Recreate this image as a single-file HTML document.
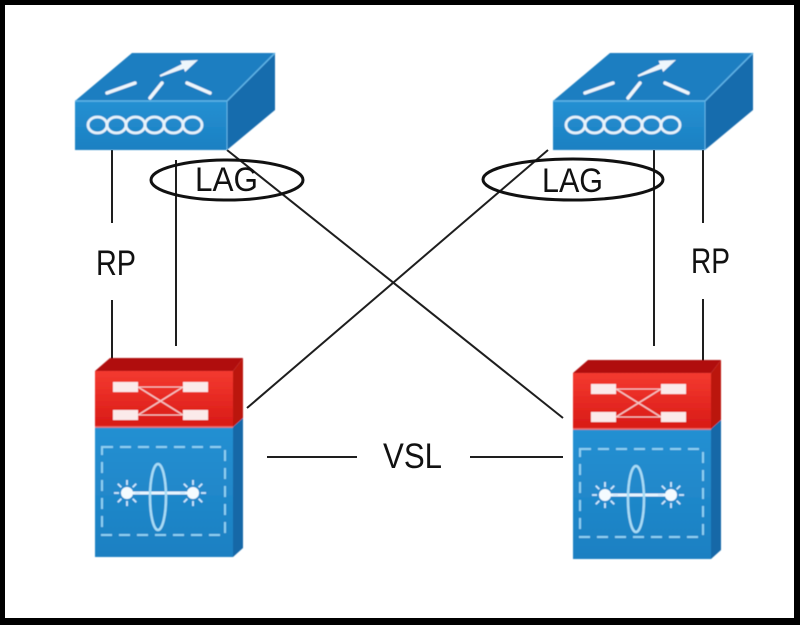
<!DOCTYPE html>
<html><head><meta charset="utf-8"><style>
html,body{margin:0;padding:0;background:#000;}
svg{display:block;}
text{font-family:"Liberation Sans",Arial,sans-serif;fill:#111;}
</style></head><body>
<svg width="800" height="625" viewBox="0 0 800 625" xmlns="http://www.w3.org/2000/svg">
<defs>
  <linearGradient id="redf" x1="0" y1="0" x2="0" y2="1">
    <stop offset="0" stop-color="#f43a30"/><stop offset="1" stop-color="#d81a16"/>
  </linearGradient>
  <linearGradient id="bluef" x1="0" y1="0" x2="0" y2="1">
    <stop offset="0" stop-color="#2590d2"/><stop offset="1" stop-color="#1b80c2"/>
  </linearGradient>
  <filter id="soft" x="-5%" y="-5%" width="110%" height="110%"><feGaussianBlur stdDeviation="0.6"/></filter>
  <g id="topsw">
    <polygon points="132,53 275,53 227,101 75,101" fill="#1b7ec1"/>
    <polygon points="75,101 227,101 227,150 75,150" fill="url(#bluef)"/>
    <polygon points="227,101 275,53 275,110 227,150" fill="#176cad"/>
    <polyline points="75,101 227,101 275,53" fill="none" stroke="#5fb4e6" stroke-width="1.5"/>
    <line x1="227" y1="101" x2="227" y2="150" stroke="#5fb4e6" stroke-width="1"/>
    <polygon points="160.4,76.9 183.8,68.7 185.1,72.0 198,60 180.5,60.8 181.8,64.1 159.6,75.1" fill="#eef6fc"/>
    <line x1="107" y1="93" x2="135" y2="83" stroke="#eef6fc" stroke-width="3.5" stroke-linecap="round"/>
    <line x1="150" y1="98" x2="162" y2="83" stroke="#eef6fc" stroke-width="3.5" stroke-linecap="round"/>
    <line x1="187" y1="83" x2="210" y2="93" stroke="#eef6fc" stroke-width="3.5" stroke-linecap="round"/>
    <g fill="none" stroke="#e6f3fb" stroke-width="2.8">
      <ellipse cx="97.5" cy="125" rx="9.5" ry="8"/>
      <ellipse cx="116.5" cy="125" rx="9.5" ry="8"/>
      <ellipse cx="135.5" cy="125" rx="9.5" ry="8"/>
      <ellipse cx="154.5" cy="125" rx="9.5" ry="8"/>
      <ellipse cx="173.5" cy="125" rx="9.5" ry="8"/>
      <ellipse cx="192.5" cy="125" rx="9.5" ry="8"/>
    </g>
  </g>
  <g id="sun">
    <circle r="6" fill="#f4fbff"/>
    <g stroke="#cfeaff" stroke-width="1.8">
      <line x1="8" y1="0" x2="13" y2="0"/><line x1="-8" y1="0" x2="-13" y2="0"/>
      <line x1="0" y1="8" x2="0" y2="13"/><line x1="0" y1="-8" x2="0" y2="-13"/>
      <line x1="5.7" y1="5.7" x2="9.2" y2="9.2"/><line x1="-5.7" y1="5.7" x2="-9.2" y2="9.2"/>
      <line x1="5.7" y1="-5.7" x2="9.2" y2="-9.2"/><line x1="-5.7" y1="-5.7" x2="-9.2" y2="-9.2"/>
    </g>
  </g>
  <g id="botsw">
    <polygon points="110,358 243,358 233,371 95,371" fill="#b01010"/>
    <rect x="95" y="371" width="138" height="56" fill="url(#redf)"/>
    <polygon points="233,371 243,358 243,418 233,427" fill="#bb1511"/>
    <rect x="95" y="427" width="138" height="130" fill="url(#bluef)"/>
    <polygon points="233,427 243,418 243,548 233,557" fill="#1668a7"/>
    <line x1="95" y1="427" x2="233" y2="427" stroke="#f07070" stroke-width="1.5"/>
    <g stroke="#f5c8c8" stroke-width="1.5">
      <line x1="138" y1="387" x2="183" y2="415"/>
      <line x1="138" y1="415" x2="183" y2="387"/>
      <line x1="138" y1="387" x2="183" y2="387" stroke-width="1"/>
      <line x1="138" y1="415" x2="183" y2="415" stroke-width="1"/>
    </g>
    <g fill="#fbeaea">
      <rect x="113" y="382" width="25" height="10"/>
      <rect x="113" y="410" width="25" height="10"/>
      <rect x="183" y="382" width="25" height="10"/>
      <rect x="183" y="410" width="25" height="10"/>
    </g>
    <rect x="102" y="447" width="123" height="88" fill="none" stroke="#8fd0f2" stroke-width="2" stroke-dasharray="11 7"/>
    <line x1="127" y1="493" x2="193" y2="493" stroke="#e8f6ff" stroke-width="3"/>
    <ellipse cx="158" cy="497" rx="8" ry="33" fill="none" stroke="#a8dcf6" stroke-width="2.5"/>
    <use href="#sun" x="127" y="493"/>
    <use href="#sun" x="193" y="493"/>
  </g>
</defs>

<rect x="5" y="5" width="789" height="613" fill="#ffffff"/>

<!-- connectors -->
<g stroke="#1e1e1e" stroke-width="2" fill="none">
  <line x1="112" y1="150" x2="112" y2="223"/>
  <line x1="112" y1="300" x2="112" y2="360"/>
  <line x1="176" y1="160" x2="176" y2="346"/>
  <line x1="654" y1="150" x2="654" y2="346"/>
  <line x1="703" y1="150" x2="703" y2="223"/>
  <line x1="703" y1="299" x2="703" y2="362"/>
  <line x1="227" y1="150" x2="563" y2="418"/>
  <line x1="247" y1="408" x2="548" y2="150"/>
  <line x1="267" y1="457" x2="357" y2="457"/>
  <line x1="470" y1="457" x2="563" y2="457"/>
</g>

<g filter="url(#soft)">
<use href="#topsw"/>
<use href="#topsw" x="478"/>
<use href="#botsw"/>
<use href="#botsw" x="478" y="2"/>
</g>

<g fill="none" stroke="#111" stroke-width="3">
  <ellipse cx="227" cy="180" rx="76" ry="20"/>
  <ellipse cx="573" cy="179.5" rx="90" ry="20.5"/>
</g>

<text x="195" y="191" font-size="34" textLength="63" lengthAdjust="spacingAndGlyphs">LAG</text>
<text x="542" y="192" font-size="34" textLength="61" lengthAdjust="spacingAndGlyphs">LAG</text>
<text x="96" y="275" font-size="35" textLength="40" lengthAdjust="spacingAndGlyphs">RP</text>
<text x="691" y="273" font-size="35" textLength="39" lengthAdjust="spacingAndGlyphs">RP</text>
<text x="383" y="468" font-size="35" textLength="59" lengthAdjust="spacingAndGlyphs">VSL</text>
</svg>
</body></html>
